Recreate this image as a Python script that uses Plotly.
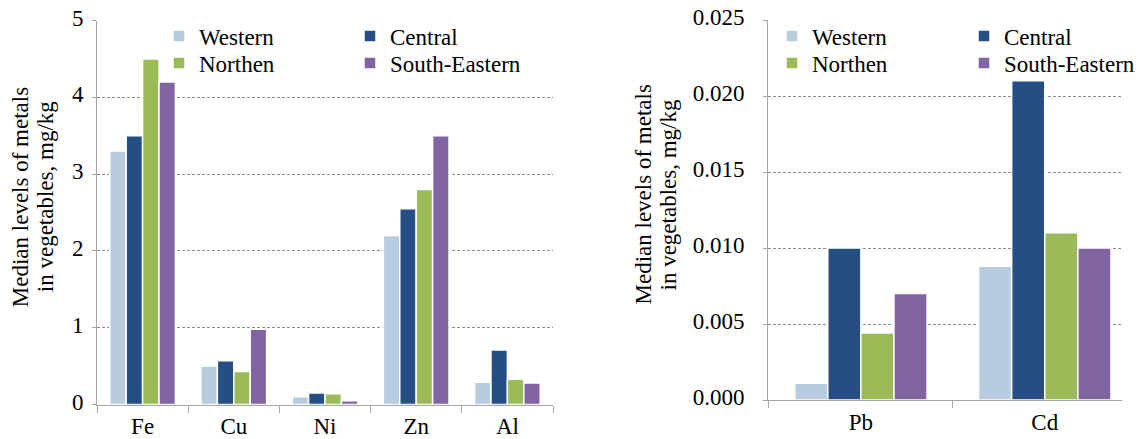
import plotly.graph_objects as go

# Regions (series) and their colours
regions = ["Western", "Central", "Northen", "South-Eastern"]
region_colors = ["#B8CCE0", "#254F83", "#9BBB59", "#8165A2"]

# Major metals (left panel), mg/kg
metals_major = ["Fe", "Cu", "Ni", "Zn", "Al"]
western_major = [3.3, 0.5, 0.1, 2.2, 0.29]
central_major = [3.5, 0.57, 0.15, 2.55, 0.71]
northen_major = [4.5, 0.43, 0.14, 2.8, 0.33]
south_eastern_major = [4.2, 0.98, 0.05, 3.5, 0.28]

# Trace metals (right panel), mg/kg
metals_trace = ["Pb", "Cd"]
western_trace = [0.0011, 0.0088]
central_trace = [0.0100, 0.0210]
northen_trace = [0.0044, 0.0110]
south_eastern_trace = [0.0070, 0.0100]

major_values = [western_major, central_major, northen_major, south_eastern_major]
trace_values = [western_trace, central_trace, northen_trace, south_eastern_trace]

y_title_lines = ["Median levels of metals", "in vegetables, mg/kg"]

W, H = 1142, 439
FONT = "Liberation Serif, Times New Roman, serif"
FS = 23

fig = go.Figure()

# One legend per entry so each key sits in a 2x2 grid above its panel
left_legends = ["legend", "legend2", "legend3", "legend4"]
right_legends = ["legend5", "legend6", "legend7", "legend8"]

for name, color, vals, lg in zip(regions, region_colors, major_values, left_legends):
    fig.add_trace(go.Bar(
        x=metals_major, y=vals, name=name, legend=lg,
        marker=dict(color=color, line=dict(color="white", width=1.5)),
        xaxis="x", yaxis="y",
    ))

for name, color, vals, lg in zip(regions, region_colors, trace_values, right_legends):
    fig.add_trace(go.Bar(
        x=metals_trace, y=vals, name=name, legend=lg,
        marker=dict(color=color, line=dict(color="white", width=1.5)),
        xaxis="x2", yaxis="y2",
    ))

def px_x(p):
    return p / W

def px_y(p):
    return 1 - p / H

grid = dict(showgrid=True, gridcolor="#8C8C8C", gridwidth=1, griddash="3px,2px")
axis_line = dict(showline=True, linecolor="#A6A6A6", linewidth=1)

xcommon = dict(
    type="category", tickson="boundaries", ticks="outside", ticklen=7,
    tickcolor="#A6A6A6", tickfont=dict(family=FONT, size=FS, color="black"),
    tickangle=0, ticklabelstandoff=1,
    showgrid=False, zeroline=False, automargin=False, fixedrange=True,
    **axis_line,
)
ycommon = dict(
    ticks="outside", ticklen=4, tickcolor="#A6A6A6",
    tickfont=dict(family=FONT, size=FS, color="black"),
    ticklabelshift=-3,
    zeroline=False, automargin=False, fixedrange=True,
    **grid, **axis_line,
)

legend_style = dict(
    xref="paper", yref="paper", xanchor="left", yanchor="middle",
    orientation="v", bgcolor="rgba(0,0,0,0)", borderwidth=0,
    font=dict(family=FONT, size=FS, color="black"),
)

# (text-start x, row-centre y) for each legend entry, in pixels
legend_spots = {
    "legend": (159, 36), "legend2": (350, 36), "legend3": (159, 63), "legend4": (350, 63),
    "legend5": (772, 36), "legend6": (964, 36), "legend7": (772, 63), "legend8": (964, 63),
}
legend_layout = {k: dict(x=px_x(x), y=px_y(y), **legend_style) for k, (x, y) in legend_spots.items()}

fig.update_layout(
    width=W, height=H,
    margin=dict(l=0, r=0, t=0, b=0, autoexpand=False),
    paper_bgcolor="white", plot_bgcolor="white",
    barmode="group", bargap=0.28, bargroupgap=0.0,
    font=dict(family=FONT, size=FS, color="black"),
    xaxis=dict(domain=[px_x(97), px_x(553)], anchor="y", **xcommon),
    yaxis=dict(domain=[px_y(404.5), px_y(20.5)], anchor="x",
               range=[0, 5], dtick=1, tick0=0, ticklabelstandoff=4, **ycommon),
    xaxis2=dict(domain=[px_x(768), px_x(1122)], anchor="y2",
                range=[-0.505, 1.42], **xcommon),
    yaxis2=dict(domain=[px_y(400), px_y(20)], anchor="x2",
                range=[0, 0.025], dtick=0.005, tick0=0, tickformat=".3f",
                ticklabelstandoff=14, **ycommon),
    showlegend=True,
    **legend_layout,
)

# Two-line rotated y-axis titles
title_positions = [
    ((20.2, 45.2), 197),
    ((642.5, 667.5), 195),
]
for (xs, yc) in title_positions:
    for line, xc in zip(y_title_lines, xs):
        fig.add_annotation(
            text=line, textangle=-90, showarrow=False,
            xref="paper", yref="paper", x=px_x(xc), y=px_y(yc),
            xanchor="center", yanchor="middle",
            font=dict(family=FONT, size=FS, color="black"),
        )

fig.write_html("out.html")
